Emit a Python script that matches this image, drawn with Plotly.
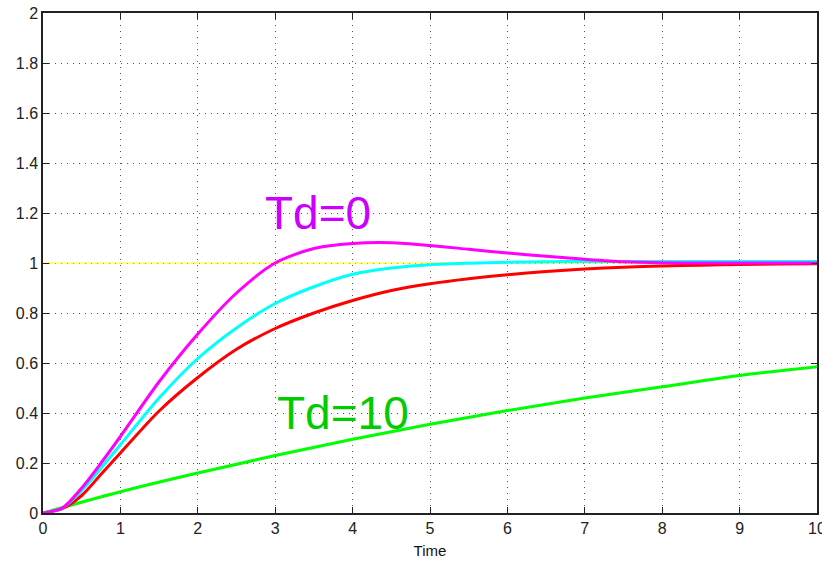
import plotly.graph_objects as go

t = [0, 0.25, 0.5, 0.75, 1, 1.5, 2, 2.5, 3, 3.5, 4, 4.5, 5, 5.5, 6, 6.5, 7, 7.5, 8, 8.5, 9, 9.5, 10]
y_td0 = [0, 0.02, 0.10, 0.20, 0.306, 0.525, 0.716, 0.88, 1.0, 1.058, 1.078, 1.081, 1.07, 1.055, 1.04, 1.027, 1.015, 1.005, 1.001, 1.0, 1.0, 1.0, 1.0]
y_cyan = [0, 0.02, 0.09, 0.18, 0.273, 0.46, 0.618, 0.74, 0.838, 0.905, 0.955, 0.98, 0.993, 0.999, 1.003, 1.005, 1.006, 1.006, 1.006, 1.006, 1.006, 1.006, 1.006]
y_red = [0, 0.018, 0.07, 0.155, 0.24, 0.408, 0.542, 0.655, 0.738, 0.80, 0.85, 0.89, 0.917, 0.937, 0.953, 0.966, 0.976, 0.983, 0.988, 0.991, 0.994, 0.996, 0.997]
t_green = [0, 1, 2, 3, 4, 5, 6, 7, 8, 9, 10]
y_td10 = [0, 0.085, 0.16, 0.23, 0.295, 0.355, 0.41, 0.46, 0.505, 0.55, 0.585]
t_ref = [0, 10]
y_ref = [1, 1]

xticks = [0, 1, 2, 3, 4, 5, 6, 7, 8, 9, 10]
yticks = [0, 0.2, 0.4, 0.6, 0.8, 1, 1.2, 1.4, 1.6, 1.8, 2]
ytick_text = ["0", "0.2", "0.4", "0.6", "0.8", "1", "1.2", "1.4", "1.6", "1.8", "2"]

fig = go.Figure()
fig.add_trace(go.Scatter(x=t_ref, y=y_ref, mode="lines", line=dict(color="#ffff00", width=1)))
fig.add_trace(go.Scatter(x=t_green, y=y_td10, mode="lines", line=dict(color="#00ff00", width=3, shape="spline")))
fig.add_trace(go.Scatter(x=t, y=y_red, mode="lines", line=dict(color="#ff0000", width=3, shape="spline", smoothing=0.8)))
fig.add_trace(go.Scatter(x=t, y=y_cyan, mode="lines", line=dict(color="#00ffff", width=3, shape="spline", smoothing=0.8)))
fig.add_trace(go.Scatter(x=t, y=y_td0, mode="lines", line=dict(color="#ff00ff", width=3, shape="spline", smoothing=0.8)))

fig.add_annotation(x=3.55, y=1.2, text="Td=0", showarrow=False,
                   font=dict(family="Liberation Sans", size=46, color="#cc00ff"))
fig.add_annotation(x=3.88, y=0.4, text="Td=10", showarrow=False,
                   font=dict(family="Liberation Sans", size=46, color="#00cc00"))

axis_common = dict(
    showline=True, linecolor="#222", linewidth=1.5, mirror="ticks",
    ticks="inside", ticklen=6, tickcolor="#222", tickwidth=1.2,
    showgrid=True, gridcolor="#555", gridwidth=1, griddash="1px,5px",
    zeroline=False, tickfont=dict(family="Liberation Sans", size=16, color="#222"),
    ticklabeloverflow="allow", automargin=False,
)

fig.update_xaxes(range=[0, 10], tickvals=xticks,
                 title=dict(text="Time", font=dict(family="Liberation Sans", size=15, color="#111"), standoff=10),
                 **axis_common)
fig.update_yaxes(range=[0, 2], tickvals=yticks, ticktext=ytick_text, **axis_common)

fig.update_layout(
    width=822, height=562,
    margin=dict(l=43, r=5, t=13, b=49),
    paper_bgcolor="white", plot_bgcolor="white",
    showlegend=False,
)

fig.write_html("out.html")
